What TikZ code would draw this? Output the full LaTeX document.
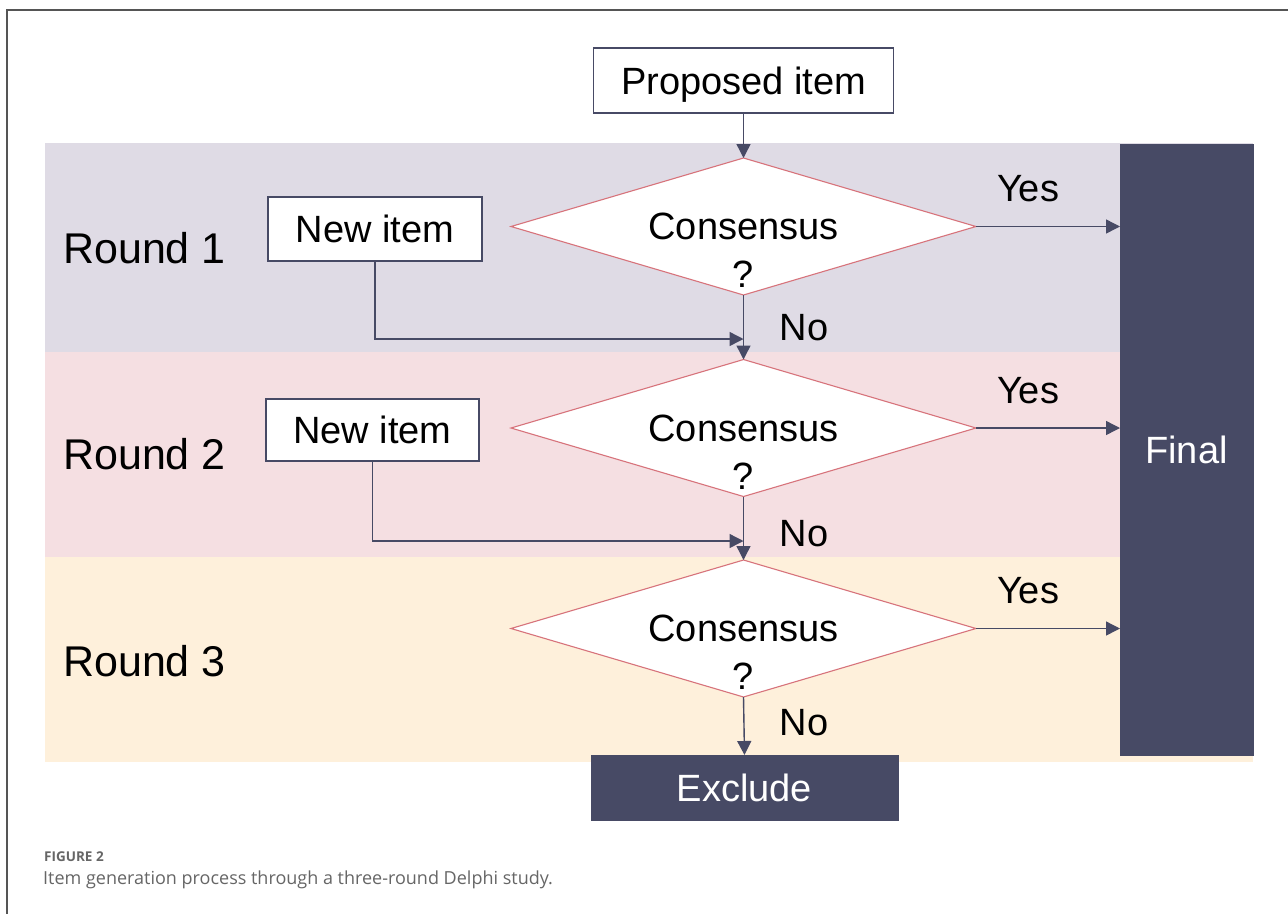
\documentclass[tikz,border=0pt]{standalone}
\usepackage{fontspec}
\setmainfont{Liberation Sans}
\newfontfamily\capfont{Open Sans}
\usetikzlibrary{shapes.geometric,arrows.meta}
\definecolor{navy}{HTML}{474A65}
\definecolor{bandA}{HTML}{DFDBE5}
\definecolor{bandB}{HTML}{F5DFE2}
\definecolor{bandC}{HTML}{FEF0DB}
\definecolor{diared}{HTML}{D7737B}
\definecolor{frameg}{HTML}{555555}
\definecolor{capg}{HTML}{666666}
\newcommand\myF{\fontsize{38}{46}\selectfont}
\newcommand\myR{\fontsize{43}{50}\selectfont}
\tikzset{
  wbox/.style={draw=navy, line width=1.4pt, fill=white, inner sep=0pt, outer sep=0pt,
    font=\myF, text height=27pt, text depth=0pt},
  dbox/.style={draw=navy, fill=navy, inner sep=0pt, outer sep=0pt,
    font=\myF, text=white, text height=27pt, text depth=0pt},
  dia/.style={shape=diamond, draw=diared, line width=1.1pt, fill=white, inner sep=0pt,
    outer sep=0pt, minimum width=465pt, minimum height=137pt},
  lbl/.style={font=\myF, anchor=base, inner sep=0pt},
  rlbl/.style={font=\myR, anchor=base west, inner sep=0pt},
  arr/.style={draw=navy, line width=1.4pt, -{Triangle[length=14pt,width=14pt]}},
  ln/.style={draw=navy, line width=1.4pt}
}
\begin{document}
\begin{tikzpicture}[x=1pt,y=-1pt]
\useasboundingbox (0,0) rectangle (1288,914);
\fill[white] (0,0) rectangle (1288,914);
% frame
\draw[frameg, line width=1.3pt] (1288,10) -- (7,10) -- (7,914);
% bands
\fill[bandA] (45,143) rectangle (1253,352);
\fill[bandB] (45,352) rectangle (1253,557);
\fill[bandC] (45,557) rectangle (1253,762);
% final box
\node[dbox, minimum width=133pt, minimum height=611pt] (final) at (1186.5,449.5) {Final};
% round labels
\node[rlbl] (r1) at (63,263) {Round 1};
\node[rlbl] (r2) at (63,469) {Round 2};
\node[rlbl] (r3) at (63,676) {Round 3};
% boxes
\node[wbox, minimum width=300pt, minimum height=65pt] (prop) at (743.5,80.5) {Proposed item};
\node[wbox, minimum width=214pt, minimum height=64pt] (n1) at (375,229) {New item};
\node[wbox, minimum width=213pt, minimum height=62pt] (n2) at (372.5,430) {New item};
\node[dbox, minimum width=307pt, minimum height=65pt] (ex) at (744.5,787.5) {Exclude};
% diamonds
\node[dia] (d1) at (743.5,226.5) {};
\node[dia] (d2) at (743.5,428) {};
\node[dia] (d3) at (743.5,628.5) {};
\node[lbl] (c1) at (743.5,239) {Consensus};
\node[lbl] (q1) at (743.5,287) {?};
\node[lbl] (c2) at (743.5,441) {Consensus};
\node[lbl] (q2) at (743.5,489) {?};
\node[lbl] (c3) at (743.5,641) {Consensus};
\node[lbl] (q3) at (743.5,689) {?};
% yes / no
\node[lbl] (y1) at (1028,201.5) {Yes};
\node[lbl] (y2) at (1028,403.5) {Yes};
\node[lbl] (y3) at (1028,603.5) {Yes};
\node[lbl] (no1) at (804,340) {No};
\node[lbl] (no2) at (804,546) {No};
\node[lbl] (no3) at (804,735) {No};
% junctions
\coordinate (j1) at (743.5,339);
\coordinate (j2) at (743.5,541);
% connectors
\draw[arr] (prop.south) -- (d1.north);
\draw[arr] (d1.south) -- (d2.north);
\draw[arr] (d2.south) -- (d3.north);
\draw[arr] (d3.south) -- (ex.north);
\draw[arr] (d1.east) -- (d1.east -| final.west);
\draw[arr] (d2.east) -- (d2.east -| final.west);
\draw[arr] (d3.east) -- (d3.east -| final.west);
\draw[arr] (n1.south) |- (j1);
\draw[arr] (n2.south) |- (j2);
% caption
\node[font=\capfont\fontsize{13.5}{16}\selectfont\bfseries, text=capg, anchor=base west, inner sep=0pt] (fig) at (44,861) {FIGURE 2};
\node[font=\capfont\fontsize{18}{22}\selectfont, text=capg, anchor=base west, inner sep=0pt] (cap) at (43,884) {Item generation process through a three-round Delphi study.};
\end{tikzpicture}
\end{document}
